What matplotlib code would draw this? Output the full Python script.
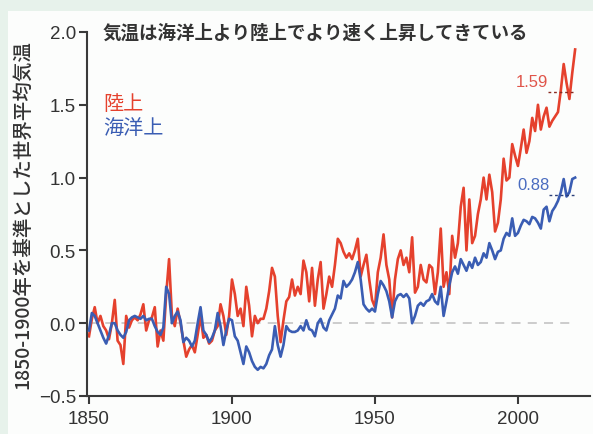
import numpy as np
import matplotlib
matplotlib.use("Agg")
import matplotlib.pyplot as plt
from matplotlib.patches import Rectangle

plt.rcParams['font.family'] = ['Noto Sans CJK JP', 'DejaVu Sans']

# annual anomalies vs 1850-1900 (degC)
years = list(range(1850, 2021))
land = [
    -0.09, 0.03, 0.11, 0.00, 0.05, -0.02, -0.05, -0.11, 0.00, 0.16,
    -0.12, -0.15, -0.28, 0.05, -0.03, 0.02, 0.04, 0.02, 0.06, 0.13,
    -0.05, 0.02, 0.04, 0.11, -0.16, -0.05, -0.12, 0.20, 0.44, 0.05,
    -0.02, 0.10, 0.00, -0.12, -0.23, -0.18, -0.15, -0.20, -0.08, 0.05,
    -0.10, -0.08, -0.14, -0.12, -0.05, -0.02, 0.13, 0.05, -0.08, 0.05,
    0.30, 0.20, 0.05, 0.10, -0.02, 0.25, 0.12, -0.09, 0.05, 0.00,
    0.03, 0.03, 0.10, 0.22, 0.38, 0.32, 0.05, -0.13, 0.02, 0.15,
    0.18, 0.30, 0.19, 0.25, 0.20, 0.43, 0.35, 0.15, 0.38, 0.12,
    0.30, 0.42, 0.10, 0.20, 0.32, 0.25, 0.40, 0.58, 0.55, 0.49,
    0.45, 0.48, 0.44, 0.50, 0.58, 0.32, 0.40, 0.47, 0.30, 0.16,
    0.11, 0.35, 0.45, 0.61, 0.40, 0.30, 0.04, 0.30, 0.44, 0.50,
    0.40, 0.45, 0.35, 0.59, 0.21, 0.25, 0.40, 0.30, 0.28, 0.40,
    0.38, 0.20, 0.35, 0.65, 0.25, 0.35, 0.20, 0.60, 0.45, 0.55,
    0.80, 0.93, 0.50, 0.85, 0.55, 0.60, 0.75, 0.85, 1.00, 0.85,
    1.02, 0.90, 0.63, 0.69, 0.85, 1.13, 0.98, 1.00, 1.23, 1.15,
    1.08, 1.20, 1.33, 1.17, 1.25, 1.41, 1.32, 1.50, 1.33, 1.42,
    1.48, 1.35, 1.39, 1.42, 1.45, 1.60, 1.78, 1.65, 1.54, 1.72,
    1.88,
]
ocean = [
    -0.05, 0.07, 0.05, 0.00, -0.05, -0.10, -0.14, -0.08, 0.00, 0.00,
    -0.05, -0.08, -0.10, -0.06, 0.02, 0.04, 0.05, 0.04, 0.03, 0.05,
    0.02, 0.03, 0.03, -0.02, -0.06, -0.08, -0.03, 0.25, 0.20, 0.00,
    0.05, 0.08, 0.02, -0.13, -0.10, -0.12, -0.16, -0.12, 0.00, 0.11,
    -0.05, -0.08, -0.13, -0.10, -0.05, 0.07, -0.02, -0.15, -0.05, 0.03,
    0.02, -0.09, -0.12, -0.20, -0.28, -0.16, -0.20, -0.26, -0.30, -0.32,
    -0.30, -0.31, -0.28, -0.22, -0.18, -0.02, -0.15, -0.23, -0.15, -0.02,
    -0.05, -0.06, -0.06, -0.05, -0.02, -0.05, 0.02, -0.04, -0.05, -0.09,
    0.00, 0.03, -0.03, -0.05, 0.02, 0.06, 0.10, 0.19, 0.17, 0.29,
    0.25, 0.27, 0.30, 0.35, 0.42, 0.30, 0.13, 0.10, 0.08, 0.10,
    0.08, 0.20, 0.29, 0.26, 0.22, 0.15, 0.04, 0.15, 0.19, 0.20,
    0.18, 0.20, 0.17, 0.00, 0.05, 0.12, 0.14, 0.12, 0.15, 0.16,
    0.20, 0.15, 0.13, 0.25, 0.05, 0.15, 0.26, 0.35, 0.39, 0.34,
    0.44, 0.40, 0.36, 0.42, 0.38, 0.45, 0.40, 0.42, 0.48, 0.45,
    0.55, 0.50, 0.44, 0.49, 0.50, 0.58, 0.62, 0.60, 0.72, 0.60,
    0.62, 0.67, 0.71, 0.70, 0.68, 0.73, 0.72, 0.69, 0.65, 0.78,
    0.80, 0.70, 0.77, 0.80, 0.84, 0.90, 0.99, 0.87, 0.90, 0.99,
    1.00,
]
land_recent = 1.59    # 2011-2020 mean
ocean_recent = 0.88

yticks = [-0.5, 0.0, 0.5, 1.0, 1.5, 2.0]
xticks = [1850, 1900, 1950, 2000]

RED = '#e5412d'
BLUE = '#3a5db3'
DARK = '#333333'

W, H = 593, 435
fig = plt.figure(figsize=(W / 100, H / 100), dpi=100)
fig.patch.set_facecolor('#e7f2eb')
fig.patches.append(Rectangle((8 / W, 0), 1, 1 - 12 / H, transform=fig.transFigure,
                             facecolor='#fcfdfc', edgecolor='none', zorder=-5))

ax = fig.add_axes([87 / W, 38 / H, (590 - 87) / W, (397 - 33) / H])
ax.set_facecolor('none')
ax.set_xlim(1849.3, 2025.2)
ax.set_ylim(-0.5, 2.0)

ax.plot([1850, 2020], [0, 0], color='#c8c8c8', lw=1.3, dashes=(5, 4), zorder=1)
ax.plot(years, land, color=RED, lw=1.9, zorder=2)
ax.plot(years, ocean, color=BLUE, lw=1.9, zorder=3)

# recent-decade means
ax.plot([2010.5, 2020], [land_recent] * 2, color='#8a2a20', lw=1.0, dashes=(2, 2), zorder=4)
ax.plot([2011, 2020], [ocean_recent] * 2, color='#2a3f7a', lw=1.0, dashes=(2, 2), zorder=4)
ax.text(2010.5, land_recent + 0.02, f'{land_recent:.2f}', color='#e0554a', fontsize=12,
        family='Liberation Sans', ha='right', va='bottom')
ax.text(2011, ocean_recent + 0.02, f'{ocean_recent:.2f}', color='#4a6cc0', fontsize=12,
        family='Liberation Sans', ha='right', va='bottom')

for s in ['top', 'right']:
    ax.spines[s].set_visible(False)
for s in ['left', 'bottom']:
    ax.spines[s].set_color('#3a3a3a')
    ax.spines[s].set_linewidth(1.5)

ax.set_yticks(yticks)
ax.set_yticklabels([f'{v:.1f}'.replace('-', '\u2212') for v in yticks])
ax.set_xticks(xticks)
ax.tick_params(axis='both', colors='#3a3a3a', labelcolor=DARK, width=1.5, length=6,
               labelsize=13.5, pad=2)
ax.tick_params(axis='x', pad=4)
for lab in ax.get_xticklabels() + ax.get_yticklabels():
    lab.set_family('Liberation Sans')

fig.text(103 / W, 1 - 33 / H, '気温は海洋上より陸上でより速く上昇してきている',
         fontsize=13.3, fontweight='bold', color=DARK, ha='left', va='center')
fig.text(103 / W, 1 - 105 / H, '陸上', fontsize=14.5, color=RED, ha='left', va='center')
fig.text(103 / W, 1 - 128 / H, '海洋上', fontsize=14.5, color=BLUE, ha='left', va='center')
fig.text(23 / W, 1 - 215 / H, '1850-1900年を基準とした世界平均気温', rotation=90,
         fontsize=14, fontweight='medium', color=DARK, ha='center', va='center')

fig.savefig('out.png', dpi=100, facecolor=fig.get_facecolor())
